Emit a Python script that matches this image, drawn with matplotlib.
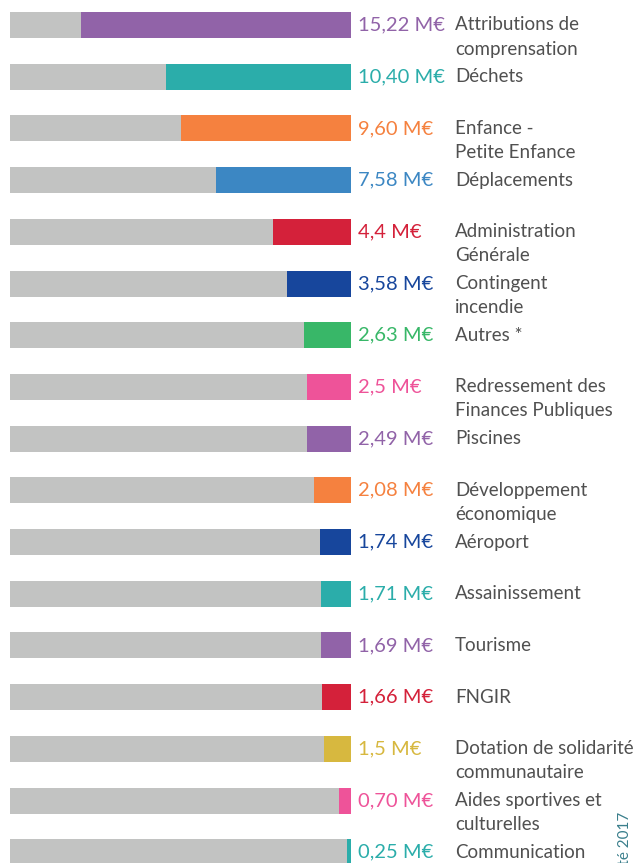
import matplotlib.pyplot as plt
from matplotlib import transforms

plt.rcParams['font.family'] = ['Lato', 'DejaVu Sans']

values = [15.22, 10.40, 9.60, 7.58, 4.4, 3.58, 2.63, 2.5, 2.49, 2.08,
          1.74, 1.71, 1.69, 1.66, 1.5, 0.70, 0.25]
value_labels = ['15,22 M€', '10,40 M€', '9,60 M€', '7,58 M€', '4,4 M€',
                '3,58 M€', '2,63 M€', '2,5 M€', '2,49 M€', '2,08 M€',
                '1,74 M€', '1,71 M€', '1,69 M€', '1,66 M€', '1,5 M€',
                '0,70 M€', '0,25 M€']
categories = ['Attributions de\ncomprensation', 'Déchets', 'Enfance -\nPetite Enfance',
              'Déplacements', 'Administration\nGénérale', 'Contingent\nincendie',
              'Autres *', 'Redressement des\nFinances Publiques', 'Piscines',
              'Développement\néconomique', 'Aéroport', 'Assainissement', 'Tourisme',
              'FNGIR', 'Dotation de solidarité\ncommunautaire',
              'Aides sportives et\nculturelles', 'Communication']
colors = ['#9163a8', '#2badaa', '#f5813f', '#3c87c3', '#d4213a', '#17469c',
          '#38b768', '#ee5399', '#9163a8', '#f5813f', '#17469c', '#2badaa',
          '#9163a8', '#d4213a', '#d7b83f', '#ee5399', '#2badaa']
total = 19.22

W, H = 635, 863
px_per_unit = 270 / 15.22
row_px = 51.7
fig = plt.figure(figsize=(W / 100, H / 100), dpi=100)
ax = fig.add_axes([0, 0, 1, 1])
ax.set_xlim(-10 / px_per_unit, (W - 10) / px_per_unit)
ax.set_ylim((H - 25) / row_px, -25 / row_px)
ax.axis('off')

ys = list(range(len(values)))
ax.barh(ys, [total] * len(values), height=26 / row_px, color='#c2c3c2', left=0)
ax.barh(ys, values, height=26 / row_px, left=[total - v for v in values], color=colors)

for y, v, lab, cat, c in zip(ys, values, value_labels, categories, colors):
    off = transforms.offset_copy(ax.transData, fig=fig, x=7, y=0, units='dots')
    ax.text(total, y, lab, color=c, fontsize=14.5, va='center', ha='left', transform=off)
    for k, line in enumerate(cat.split('\n')):
        ax.text(total + 104 / px_per_unit, y + k * 24 / row_px, line, color='#505050',
                fontsize=13.5, va='center', ha='left')

fig.text(625 / W, 1 - 812 / H, 'Budget adopté 2017', rotation=90, color='#3a7f8c',
         fontsize=11, ha='center', va='top')

fig.savefig('out.png', dpi=100)
